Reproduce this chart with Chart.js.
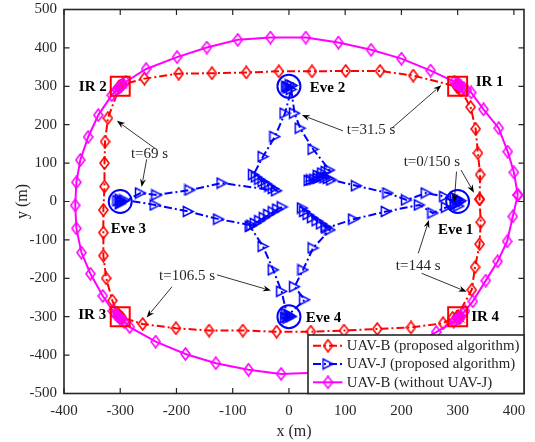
<!DOCTYPE html>
<html><head><meta charset="utf-8">
<script src="https://cdn.jsdelivr.net/npm/chart.js@4/dist/chart.umd.min.js"></script>
<style>html,body{margin:0;padding:0;background:#fff;}canvas{display:block;}</style>
</head><body>
<canvas id="c" width="535" height="442"></canvas>
<script>
// ---------- data ----------
const xTicks = [-400,-300,-200,-100,0,100,200,300,400];
const yTicks = [-500,-400,-300,-200,-100,0,100,200,300,400,500];
const seriesNames = ['UAV-B (proposed algorithm)','UAV-J (proposed algorithm)','UAV-B (without UAV-J)'];

// UAV-B (proposed algorithm)
const redX = [339,340,336,332,323,306,302,298,302,299,221,162,101,41,-18,-76,-137,-196,-257,-296,-300,-303,-298,-301,-322,-327,-328,-328,-330,-330,-330,-325,-314,-305,-300,-297,-302,-299,-260,-201,-142,-82,-22,39,98,157,217,274,291,300,304,301,298,325,331,339,341,339];
const redY = [6,70,126,189,246,290,296,302,305,299,328,340,340,339,339,336,334,333,320,305,300,297,302,299,217,156,100,39,-22,-81,-141,-200,-258,-290,-300,-303,-298,-301,-319,-330,-336,-336,-339,-339,-336,-332,-328,-317,-303,-300,-304,-299,-302,-230,-171,-111,-54,6];

// UAV-J (proposed algorithm)
const blueX = [296,300,304,300,296,306,302,277,244,209,176,120,76,70,64,58,52,46,40,36,52,60,66,72,43,20,10,4,0,-4,2,-2,6,-7,-25,-46,-63,-58,-52,-46,-40,-34,-28,-22,-119,-176,-235,-264,-300,-296,-300,-304,-298,-292,-238,-179,-125,-66,-12,-20,-28,-36,-44,-52,-60,-69,-46,-28,-13,-4,0,4,-2,2,-6,28,10,25,43,73,66,58,50,42,34,28,24,67,115,173,232,256,280,296];
const blueY = [-8,-4,0,6,10,2,-12,13,22,4,22,41,56,60,62,64,60,58,56,55,68,74,78,82,136,191,230,292,296,300,304,298,302,230,169,117,70,64,58,52,46,40,34,28,48,30,17,22,-6,0,6,2,-2,4,-9,-26,-46,-62,-14,-20,-27,-34,-42,-50,-57,-65,-117,-178,-234,-292,-296,-300,-304,-298,-302,-256,-222,-178,-121,-74,-66,-58,-50,-42,-34,-26,-17,-69,-46,-26,-9,-30,-15,-8];

// UAV-B (without UAV-J)
const magX = [407,400,389,373,346,324,316,311,306,302,298,294,252,200,146,88,30,-33,-91,-146,-199,-254,-290,-295,-300,-305,-310,-315,-339,-357,-371,-378,-380,-378,-369,-353,-331,-313,-309,-305,-301,-297,-293,-283,-237,-184,-130,-72,-14,44,101,157,210,262,293,297,301,305,309,313,327,350,371,388,398,407];
const magY = [17,76,130,191,240,284,290,295,300,304,308,312,341,372,395,414,427,427,421,401,376,345,312,306,300,292,285,277,225,168,108,50,-10,-70,-133,-188,-246,-285,-292,-298,-304,-309,-313,-327,-365,-397,-421,-438,-449,-446,-433,-411,-381,-340,-313,-309,-304,-298,-292,-285,-260,-206,-156,-104,-39,17];

// IR locations (squares) and Eve locations (circles)
const irX = [300,-300,-300,300];
const irY = [300,300,-300,-300];
const eveX = [300,0,-300,0];
const eveY = [0,300,0,-300];

// annotation texts (data coordinates)
const annText  = ['IR 1','IR 2','IR 3','IR 4','Eve 1','Eve 2','Eve 3','Eve 4','t=31.5 s','t=69 s','t=0/150 s','t=106.5 s','t=144 s'];
const annX     = [332,-324,-325,324,265,37,-317,30,103,-281,204,-231,190];
const annY     = [311,299,-296,-302,-74,294,-71,-304,186,124,102,-195,-167];
const annBold  = [1,1,1,1,1,1,1,1,0,0,0,0,0];
const annAlign = ['left','right','right','left','left','left','left','left','left','left','left','left','left'];

// arrows (data coordinates)
const arrFromX = [96,183,-238,-253,298,306,-208,-128,230,236];
const arrFromY = [184,191,138,110,78,82,-222,-191,-135,-187];
const arrToX   = [23,271,-306,-262,294,329,-253,-32,249,316];
const arrToY   = [225,303,210,38,-1,23,-302,-232,-48,-235];

// ---------- styles ----------
const RED='#ff0000', BLUE='#0000ff', MAG='#ff00ff', AX='#262626';
const FONT='"Liberation Serif","Times New Roman",serif';
const DASHDOT=[8,3,2,3];

function diamondImg(color){
  const c=document.createElement('canvas'); c.width=11; c.height=14;
  const g=c.getContext('2d'); g.strokeStyle=color; g.lineWidth=1.6; g.lineJoin='miter';
  g.beginPath(); g.moveTo(5.5,1); g.lineTo(10,7); g.lineTo(5.5,13); g.lineTo(1,7); g.closePath(); g.stroke();
  return c;
}
function triImg(color){
  const c=document.createElement('canvas'); c.width=13; c.height=13;
  const g=c.getContext('2d'); g.strokeStyle=color; g.lineWidth=1.5;
  g.beginPath(); g.moveTo(1.5,1.5); g.lineTo(11.5,6.5); g.lineTo(1.5,11.5); g.closePath(); g.stroke();
  return c;
}
const redMk=diamondImg(RED), magMk=diamondImg(MAG), blueMk=triImg(BLUE);

const pts=(xs,ys)=>xs.map((v,i)=>({x:v,y:ys[i]}));

function drawArrow(ctx,x0,y0,x1,y1){
  const ang=Math.atan2(y1-y0,x1-x0), L=8, W=3;
  ctx.beginPath(); ctx.moveTo(x0,y0); ctx.lineTo(x1-Math.cos(ang)*L*0.8,y1-Math.sin(ang)*L*0.8); ctx.stroke();
  ctx.beginPath();
  ctx.moveTo(x1,y1);
  ctx.lineTo(x1-Math.cos(ang)*L+Math.sin(ang)*W, y1-Math.sin(ang)*L-Math.cos(ang)*W);
  ctx.lineTo(x1-Math.cos(ang)*L*0.7, y1-Math.sin(ang)*L*0.7);
  ctx.lineTo(x1-Math.cos(ang)*L-Math.sin(ang)*W, y1-Math.sin(ang)*L+Math.cos(ang)*W);
  ctx.closePath(); ctx.fill();
}

const deco={
  id:'deco',
  afterDraw(chart){
    const {ctx,chartArea:a,scales:{x,y}}=chart;
    ctx.save();
    // annotations
    ctx.textBaseline='middle';
    annText.forEach((t,i)=>{
      ctx.font=(annBold[i]?'bold ':'')+'15px '+FONT;
      ctx.textAlign=annAlign[i];
      ctx.fillStyle=annBold[i]?'#000':'#262626';
      ctx.fillText(t,x.getPixelForValue(annX[i]),y.getPixelForValue(annY[i]));
    });
    ctx.strokeStyle='#000'; ctx.fillStyle='#000'; ctx.lineWidth=0.8;
    arrFromX.forEach((v,i)=>{
      drawArrow(ctx,x.getPixelForValue(v),y.getPixelForValue(arrFromY[i]),x.getPixelForValue(arrToX[i]),y.getPixelForValue(arrToY[i]));
    });
    // axes box
    ctx.strokeStyle=AX; ctx.lineWidth=1.6;
    ctx.strokeRect(a.left,a.top,a.right-a.left,a.bottom-a.top);
    ctx.lineWidth=1.2;
    const TL=5.5;
    ctx.beginPath();
    xTicks.forEach(v=>{const p=x.getPixelForValue(v); ctx.moveTo(p,a.bottom); ctx.lineTo(p,a.bottom-TL); ctx.moveTo(p,a.top); ctx.lineTo(p,a.top+TL);});
    yTicks.forEach(v=>{const p=y.getPixelForValue(v); ctx.moveTo(a.left,p); ctx.lineTo(a.left+TL,p); ctx.moveTo(a.right,p); ctx.lineTo(a.right-TL,p);});
    ctx.stroke();
    // legend
    const W=216, H=58.5, L=a.right-W, T=a.bottom-H;
    ctx.fillStyle='#fff'; ctx.fillRect(L,T,W,H);
    ctx.strokeStyle=AX; ctx.lineWidth=1.6; ctx.strokeRect(L,T,W,H);
    const cols=[RED,BLUE,MAG], mk=[redMk,blueMk,magMk], dash=[DASHDOT,DASHDOT,[]];
    seriesNames.forEach((n,i)=>{
      const ry=T+10.7+i*18.3;
      ctx.strokeStyle=cols[i]; ctx.lineWidth=2; ctx.setLineDash(dash[i]);
      ctx.beginPath(); ctx.moveTo(L+5,ry); ctx.lineTo(L+34.5,ry); ctx.stroke();
      ctx.setLineDash([]);
      ctx.drawImage(mk[i],L+20-mk[i].width/2,ry-mk[i].height/2);
      ctx.fillStyle='#262626'; ctx.font='14.8px '+FONT; ctx.textAlign='left'; ctx.textBaseline='middle';
      ctx.fillText(n,L+38.7,ry+0.5);
    });
    ctx.restore();
  }
};

new Chart(document.getElementById('c'),{
  type:'line',
  data:{datasets:[
    {label:seriesNames[0],data:pts(redX,redY),borderColor:RED,borderWidth:2,borderDash:DASHDOT,pointStyle:redMk,pointRadius:5,fill:false,tension:0,order:5},
    {label:seriesNames[1],data:pts(blueX,blueY),borderColor:BLUE,borderWidth:2,borderDash:DASHDOT,pointStyle:blueMk,pointRadius:5,fill:false,tension:0,order:4},
    {label:seriesNames[2],data:pts(magX,magY),borderColor:MAG,borderWidth:2,pointStyle:magMk,pointRadius:5,fill:false,tension:0,order:3},
    {label:'IR',data:pts(irX,irY),showLine:false,pointStyle:'rect',pointRadius:13.4,pointBorderColor:RED,pointBackgroundColor:'rgba(0,0,0,0)',pointBorderWidth:2,order:2},
    {label:'Eve',data:pts(eveX,eveY),showLine:false,pointStyle:'circle',pointRadius:11.5,pointBorderColor:BLUE,pointBackgroundColor:'rgba(0,0,0,0)',pointBorderWidth:2,order:1}
  ]},
  options:{
    responsive:false,animation:false,devicePixelRatio:1,
    layout:{autoPadding:false,padding:{top:9.5,right:11,left:0,bottom:0}},
    plugins:{legend:{display:false},tooltip:{enabled:false}},
    scales:{
      x:{type:'linear',min:-400,max:418,
        afterBuildTicks:s=>{s.ticks=xTicks.map(v=>({value:v}));},
        afterFit:s=>{s.height=48.5; s.paddingLeft=0; s.paddingRight=0;},
        grid:{display:false,drawTicks:false},border:{display:false},
        ticks:{font:{family:FONT,size:15},color:AX,padding:9,maxRotation:0,autoSkip:false},
        title:{display:true,text:'x (m)',font:{family:FONT,size:16},color:AX,padding:{top:0,bottom:1}}},
      y:{type:'linear',min:-500,max:500,
        afterBuildTicks:s=>{s.ticks=yTicks.map(v=>({value:v}));},
        afterFit:s=>{s.width=64; s.paddingTop=0; s.paddingBottom=0;},
        grid:{display:false,drawTicks:false},border:{display:false},
        ticks:{font:{family:FONT,size:15},color:AX,padding:7,autoSkip:false},
        title:{display:true,text:'y (m)',font:{family:FONT,size:16},color:AX,padding:{top:13,bottom:0}}}
    }
  },
  plugins:[deco]
});
</script>
</body></html>
